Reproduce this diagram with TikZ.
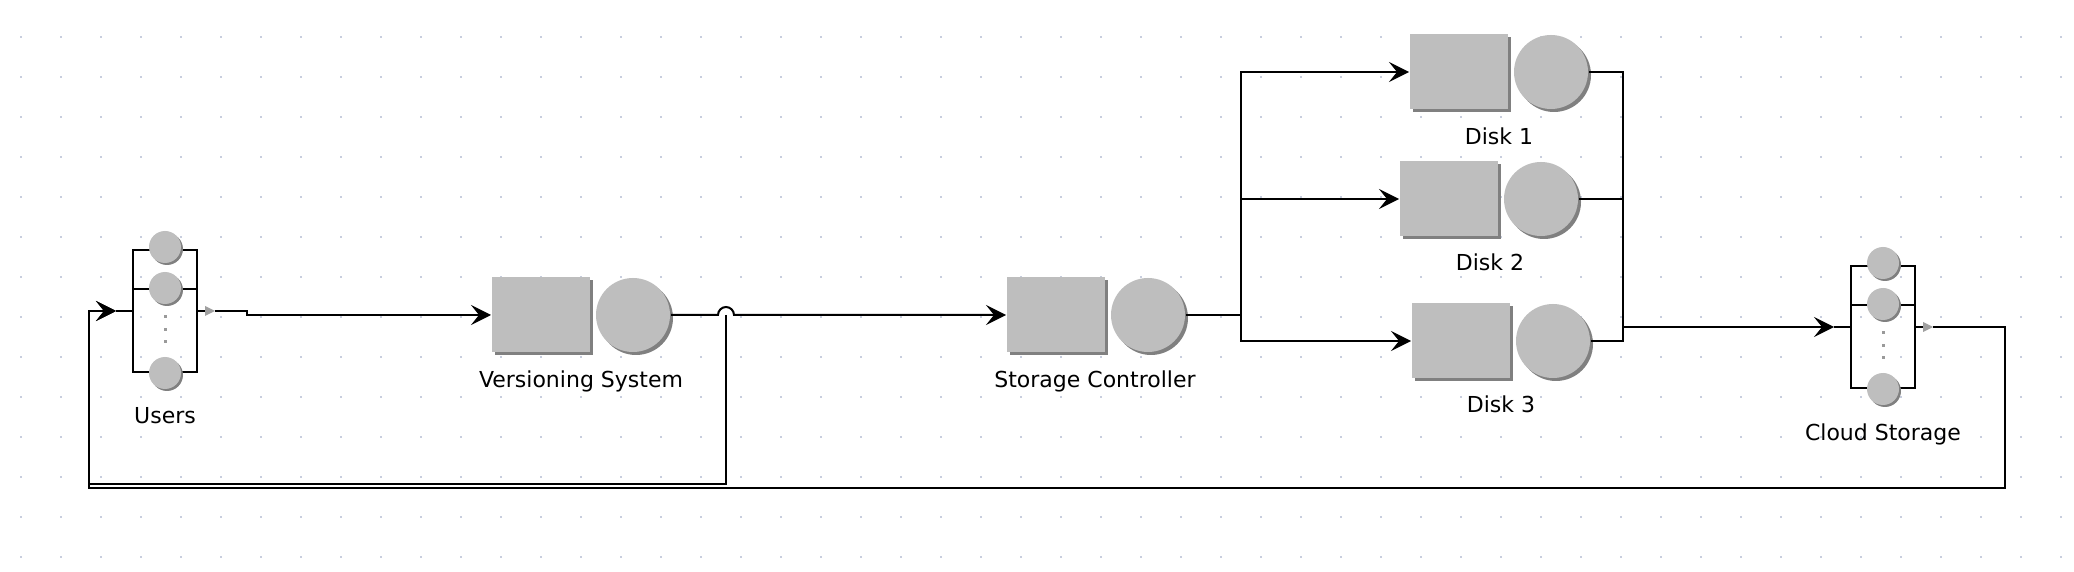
\documentclass[tikz,border=0pt]{standalone}
\usepackage{fontspec}
\setmainfont{DejaVu Sans}
\usetikzlibrary{arrows.meta,positioning,shadows}
\definecolor{stgray}{RGB}{190,190,190}
\definecolor{stdark}{RGB}{128,128,128}
\definecolor{griddot}{RGB}{200,206,222}

\begin{document}
\begin{tikzpicture}[x=0.5pt,y=-0.5pt,line width=1pt,>={Stealth[length=10pt,width=10pt,inset=4pt]}]
	\tikzset{stshadow/.style={drop shadow={shadow xshift=1.5pt,shadow yshift=-1.5pt,fill=stdark,opacity=1}},
		queue/.style={rectangle,fill=stgray,minimum width=49pt,minimum height=37.5pt,inner sep=0,stshadow},
		server/.style={circle,fill=stgray,minimum size=37pt,inner sep=0,stshadow},
		delaybox/.style={rectangle,draw,minimum width=32pt,minimum height=61pt,inner sep=0},
		client/.style={circle,fill=stgray,minimum size=16pt,inner sep=0,
			drop shadow={shadow xshift=1pt,shadow yshift=-1pt,fill=stdark,opacity=1}},
		lbl/.style={font=\fontsize{11}{13}\selectfont,inner sep=0,anchor=base}}
	\fill[white] (0,0) rectangle (2074,572);
	\useasboundingbox (0,0) rectangle (2074,572);
	\foreach \gx in {21,61,...,2061}
		\foreach \gy in {37,77,...,557}
			\fill[griddot] (\gx-1,\gy-1) rectangle ++(2,2);
	\foreach \n/\x/\y in {users/165/311,cloud/1883/327} {
		\node[delaybox] (\n) at (\x,\y) {};
		\draw ([yshift=-20pt]\n.north west) -- ([yshift=-20pt]\n.north east);
		\node[client] at ([yshift=1pt]\n.north) {};
		\node[client] at ([yshift=-19.5pt]\n.north) {};
		\node[client] at (\n.south) {};
		\foreach \d in {34,40.5,46.5}
			\fill[stdark!80] ([yshift=-\d pt]\n.north) ++(-1.5,-1.5) rectangle ++(3,3);
		\draw (\n.west) -- ++(-16,0) coordinate (\n-in);
		\draw (\n.east) -- ++(7,0) coordinate (\n-tri);
		\fill[stdark!75] (\n-tri) ++(0,-5) -- ++(10,5) -- ++(-10,5) -- cycle;
		\coordinate (\n-out) at ([xshift=8.5pt]\n.east);
	}
	\node[queue] (vq) at (541,315) {};
	\node[server, right=2pt of vq] (vs) {};
	\node[queue] (sq) at (1056,315) {};
	\node[server, right=2pt of sq] (ss) {};
	\node[queue] (d1q) at (1459,72) {};
	\node[server, right=2pt of d1q] (d1s) {};
	\node[queue] (d2q) at (1449,199) {};
	\node[server, right=2pt of d2q] (d2s) {};
	\node[queue] (d3q) at (1461,341) {};
	\node[server, right=2pt of d3q] (d3s) {};
	\node[lbl] (usersl) at (165,423) {Users};
	\node[lbl] (vl) at (581,388) {Versioning System};
	\node[lbl] (sl) at (1095,388) {Storage Controller};
	\node[lbl] (d1l) at (1499,145) {Disk 1};
	\node[lbl] (d2l) at (1490,271) {Disk 2};
	\node[lbl] (d3l) at (1501,413) {Disk 3};
	\node[lbl] (cloudl) at (1883,440) {Cloud Storage};
	\coordinate (hop) at (726,315);
	\coordinate (fork) at (1241,315);
	\coordinate (join) at (1623,327);
	\draw[->] (users-out) -- ++(32,0) |- (vq.west);
	\draw[->] (vs.east) -- ([xshift=-4pt]hop) arc[start angle=180,end angle=0,radius=4pt] -- (sq.west);
	\draw[->] (hop) -- (726,484) -| (89,311) -- (users-in);
	\draw (ss.east) -- (fork);
	\draw[->] (fork) |- (d1q.west);
	\draw[->] (fork) |- (d2q.west);
	\draw[->] (fork) |- (d3q.west);
	\draw (d1s.east) -| (join);
	\draw (d2s.east) -| (join);
	\draw (d3s.east) -| (join);
	\draw[->] (join) -- (cloud-in);
	\draw[->] (cloud-out) -| (2005,488) -| (89,311) -- (users-in);
\end{tikzpicture}
\end{document}
